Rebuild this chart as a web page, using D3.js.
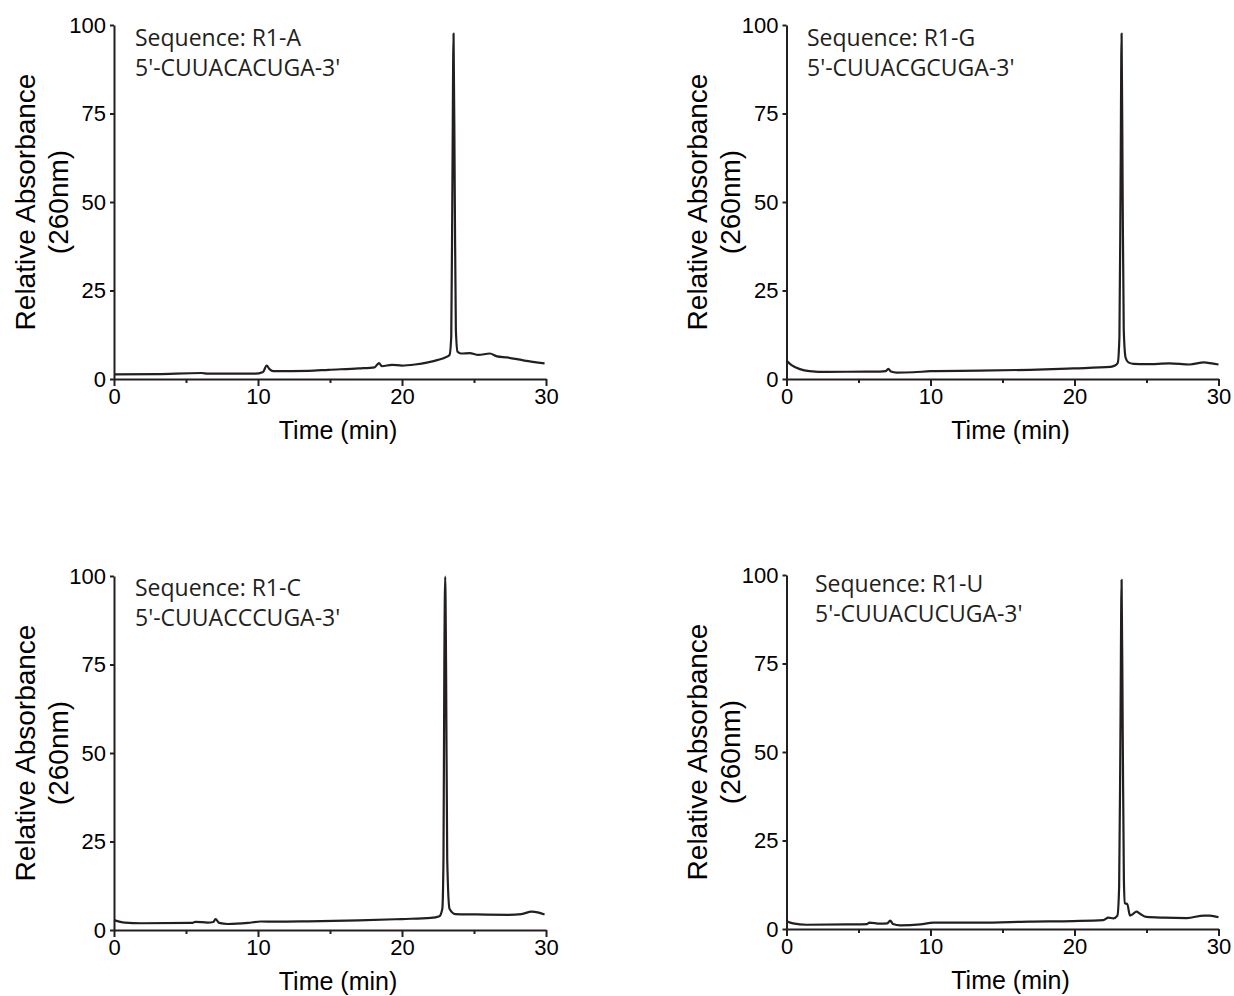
<!DOCTYPE html>
<html>
<head>
<meta charset="utf-8">
<script src="https://cdn.jsdelivr.net/npm/d3@7"></script>
<style>
  body { margin: 0; background: #fff; }
  svg { display: block; }
  .tick text { font-family: "Liberation Sans", Arial, sans-serif; fill: #000; }
</style>
</head>
<body>
<div id="chart"></div>
<script>
// ========== DATA ==========
const xTicks = [0, 10, 20, 30];
const xMinorTicks = [5, 15, 25];
const yTicks = [0, 25, 50, 75, 100];

const titles = ['Sequence: R1-A', 'Sequence: R1-G', 'Sequence: R1-C', 'Sequence: R1-U'];
const sequences = ["5'-CUUACACUGA-3'", "5'-CUUACGCUGA-3'", "5'-CUUACCCUGA-3'", "5'-CUUACUCUGA-3'"];

// R1-A
const timeA = [0, 3, 6.1, 6.5, 9.8, 10.35, 10.6, 10.8, 11.05, 13.5, 14.9, 17, 18.1, 18.4, 18.6, 19.3, 20, 20.9, 21.8, 22.5,
  23.0, 23.3, 23.42, 23.5, 23.58, 23.66, 23.74, 23.86, 24.1, 24.7, 25.3, 26.1, 26.6, 27.3, 28.5, 29.9];
const absA = [1.3, 1.4, 1.7, 1.5, 1.5, 2.0, 3.8, 2.8, 2.2, 2.3, 2.6, 3.0, 3.3, 4.5, 3.6, 4.0, 3.8, 4.1, 4.7, 5.4,
  6.1, 6.8, 12, 55, 97.6, 55, 14, 7.7, 7.2, 7.3, 6.8, 7.2, 6.4, 6.1, 5.2, 4.4];

// R1-G
const timeG = [0, 0.35, 0.93, 1.6, 2.8, 5.6, 6.5, 6.9, 7.07, 7.25, 7.65, 8.8, 10.0, 10.4, 13.4, 16.9, 19.9, 22.5, 22.8,
  23.0, 23.12, 23.2, 23.27, 23.34, 23.42, 23.55, 23.74, 24.1, 25.0, 26.6, 28.0, 29.0, 29.4, 30.0];
const absG = [5.2, 3.9, 2.8, 2.25, 2.0, 2.1, 2.1, 2.2, 2.9, 2.1, 1.8, 1.9, 2.2, 2.25, 2.35, 2.6, 3.0, 3.4, 3.8,
  4.5, 12, 55, 97.6, 55, 14, 6, 4.7, 4.3, 4.2, 4.4, 4.1, 4.7, 4.5, 4.1];

// R1-C
const timeC = [0, 0.75, 1.9, 5.4, 5.65, 6.5, 6.9, 7.05, 7.3, 7.9, 9.3, 10.2, 11.2, 13.5, 17, 20, 22, 22.6,
  22.8, 22.88, 22.94, 23.0, 23.06, 23.14, 23.3, 23.7, 25.06, 27.4, 28.3, 29.0, 29.5, 29.9];
const absC = [2.8, 2.1, 1.9, 2.0, 2.3, 2.1, 2.25, 3.1, 2.0, 1.7, 2.0, 2.4, 2.35, 2.45, 2.7, 3.1, 3.4, 3.9,
  6, 20, 75, 99.8, 75, 20, 6, 4.5, 4.4, 4.3, 4.5, 5.2, 4.9, 4.4];

// R1-U
const timeU = [0, 0.45, 1.4, 4.2, 5.6, 5.75, 6.5, 7.0, 7.2, 7.4, 7.9, 9.3, 10.2, 13.4, 16.9, 19.9, 22.0, 22.35, 22.7,
  22.98, 23.1, 23.19, 23.27, 23.35, 23.43, 23.5, 23.67, 23.85, 24.05, 24.3, 24.55, 25.0, 26.2, 27.8, 29.0, 29.4, 30.0];
const absU = [2.2, 1.6, 1.2, 1.3, 1.4, 1.8, 1.5, 1.6, 2.35, 1.4, 1.0, 1.3, 1.8, 1.8, 2.1, 2.25, 2.5, 3.2, 3.0,
  3.8, 12, 55, 98.6, 55, 14, 7.3, 7.0, 3.8, 4.2, 4.9, 4.3, 3.4, 3.2, 3.1, 3.8, 3.8, 3.3];

const seriesTimes = [timeA, timeG, timeC, timeU];
const seriesAbs = [absA, absG, absC, absU];

// ========== LAYOUT ==========
const W = 1234, H = 996;
const ink = '#231f20';
const panels = [
  { left: 114, right: 546, top: 25, bottom: 379, titleX: 135, titleY: 46, yLabX: 25 },
  { left: 786.5, right: 1218.5, top: 25, bottom: 379, titleX: 807, titleY: 46, yLabX: 697 },
  { left: 114, right: 546, top: 576, bottom: 930, titleX: 135, titleY: 596, yLabX: 25 },
  { left: 786.5, right: 1218.5, top: 575, bottom: 929, titleX: 815, titleY: 592, yLabX: 697 }
];

const svg = d3.select('#chart').append('svg').attr('width', W).attr('height', H);
svg.append('rect').attr('width', W).attr('height', H).attr('fill', '#fff');

function drawPanel(p, i) {
  const data = seriesTimes[i].map((t, k) => ({ t, v: seriesAbs[i][k] }));
  const x = d3.scaleLinear().domain([0, 30]).range([p.left, p.right]);
  const y = d3.scaleLinear().domain([0, 100]).range([p.bottom, p.top]);
  const g = svg.append('g');

  // Axes
  const xa = g.append('g').attr('transform', `translate(0,${p.bottom})`)
    .call(d3.axisBottom(x).tickValues(xTicks).tickSize(7).tickSizeOuter(0).tickPadding(2));
  xa.selectAll('text').style('font-size', '22px');
  xa.selectAll('.domain, line').attr('stroke', ink).attr('stroke-width', 2);
  g.append('g').attr('transform', `translate(0,${p.bottom})`)
    .call(d3.axisBottom(x).tickValues(xMinorTicks).tickSize(4).tickFormat(''))
    .call(s => s.select('.domain').remove())
    .selectAll('line').attr('stroke', ink).attr('stroke-width', 2);

  const ya = g.append('g').attr('transform', `translate(${p.left},0)`)
    .call(d3.axisLeft(y).tickValues(yTicks).tickSize(4).tickSizeOuter(0).tickPadding(4));
  ya.selectAll('text').style('font-size', '22px');
  ya.selectAll('.domain, line').attr('stroke', ink).attr('stroke-width', 2);

  // Trace
  const line = d3.line().x(d => x(d.t)).y(d => y(d.v)).curve(d3.curveMonotoneX);
  g.append('path').datum(data).attr('fill', 'none').attr('stroke', ink)
    .attr('stroke-width', 2.2).attr('stroke-linejoin', 'round').attr('d', line);

  // Annotation
  const ann = g.append('text').attr('x', p.titleX).attr('y', p.titleY)
    .style('font-family', '"Open Sans", sans-serif').style('font-size', '23px').attr('fill', ink);
  ann.append('tspan').attr('x', p.titleX).text(titles[i]);
  ann.append('tspan').attr('x', p.titleX).attr('dy', 30).text(sequences[i]);

  // Axis titles
  const midY = (p.top + p.bottom) / 2;
  const yl = g.append('text').attr('transform', `translate(${p.yLabX},${midY}) rotate(-90)`)
    .attr('text-anchor', 'middle').style('font-family', '"Liberation Sans", Arial, sans-serif')
    .style('font-size', '28px').attr('fill', '#000');
  yl.append('tspan').attr('x', 0).attr('dy', '0.35em').text('Relative Absorbance');
  yl.append('tspan').attr('x', 0).attr('dy', 33).text('(260nm)');

  g.append('text').attr('x', (p.left + p.right) / 2 + 8).attr('y', p.bottom + 60)
    .attr('text-anchor', 'middle').style('font-family', '"Liberation Sans", Arial, sans-serif')
    .style('font-size', '25px').attr('fill', '#000').text('Time (min)');
}

panels.forEach(drawPanel);
</script>
</body>
</html>
